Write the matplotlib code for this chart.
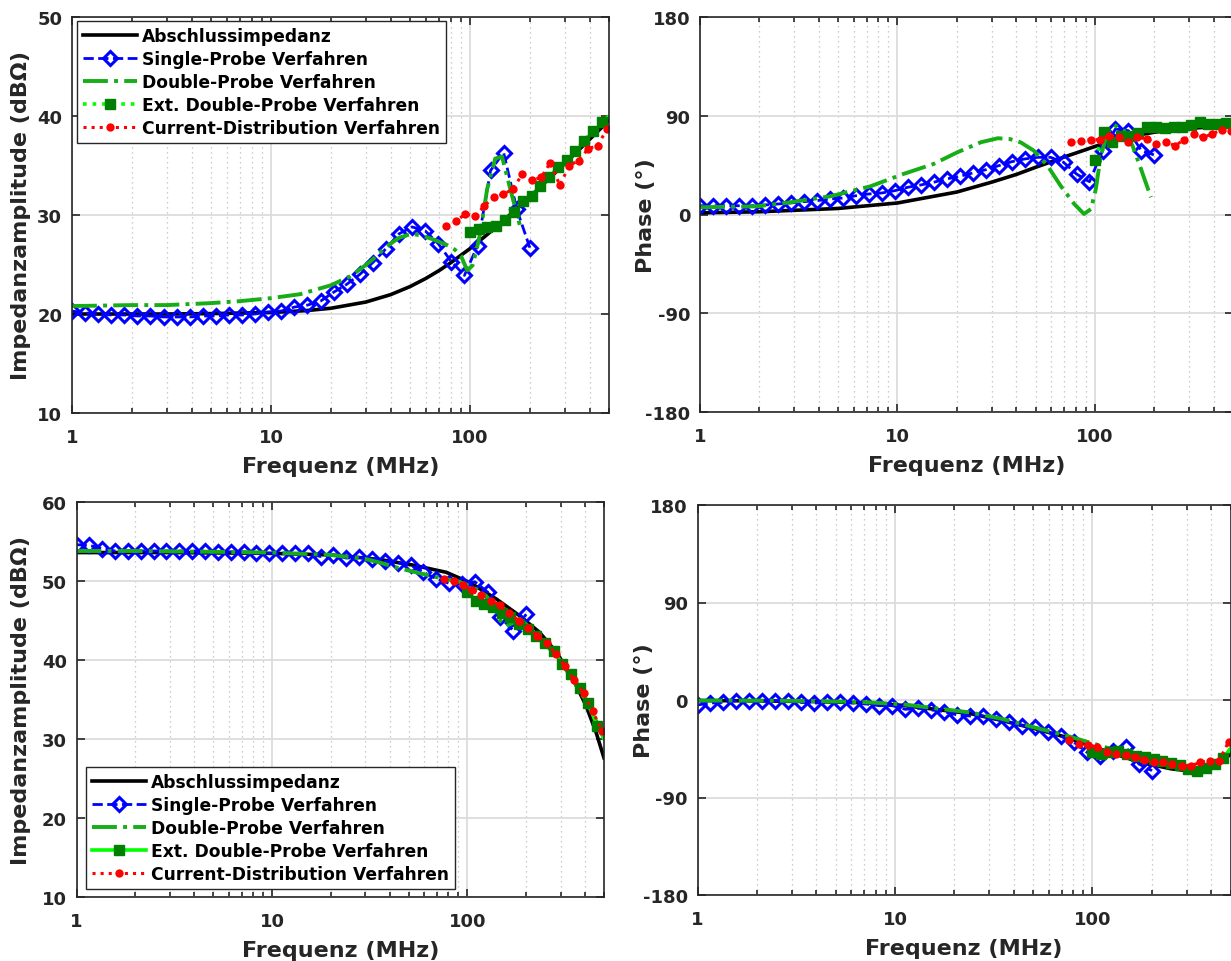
import matplotlib
matplotlib.use("Agg")
import matplotlib.pyplot as plt
from matplotlib.ticker import FixedLocator, FixedFormatter, NullFormatter, LogLocator

plt.rcParams['font.family'] = ['DejaVu Sans']
plt.rcParams['font.weight'] = 'bold'

# ---------------- data ----------------
# frequencies (MHz)
f_probe = [1.0, 1.163, 1.354, 1.575, 1.832, 2.132, 2.480, 2.885, 3.357, 3.906, 4.544, 5.287,
           6.151, 7.156, 8.325, 9.686, 11.27, 13.11, 15.26, 17.75, 20.65, 24.03, 27.95, 32.52,
           37.84, 44.02, 51.19, 59.58, 69.31, 80.64, 93.82, 109.2, 127.0, 147.7, 171.9, 200.0]
f_ext = [100, 111, 122, 135, 150, 166, 184, 204, 225, 250, 276, 306, 339, 375, 415, 460, 500]
f_cd = [76, 85, 95, 106, 118, 132, 147, 164, 183, 204, 228, 254, 283, 316, 352, 393, 438, 489]

# --- top left: impedance magnitude (dBOhm) ---
f_term_tl = [1, 3, 5, 10, 15, 20, 30, 40, 50, 60, 70, 80, 100, 120, 150, 200, 250, 300, 400, 500]
term_tl = [20.0, 20.0, 20.04, 20.15, 20.34, 20.58, 21.21, 21.96, 22.77, 23.59, 24.39, 25.17,
           26.6, 27.9, 29.56, 31.84, 33.68, 35.2, 37.65, 39.56]
single_tl = [20.3, 20.1, 20.0, 19.9, 19.9, 19.8, 19.8, 19.7, 19.7, 19.7, 19.8, 19.8, 19.9, 19.9,
             20.0, 20.2, 20.3, 20.7, 20.9, 21.3, 22.2, 23.0, 24.0, 25.2, 26.6, 28.1, 28.8, 28.4,
             27.1, 25.3, 23.9, 26.9, 34.5, 36.3, 30.6, 26.7]
f_double_tl = [1, 2, 3, 5, 7, 10, 14, 20, 25, 28, 32, 38, 44, 51, 58, 66, 76, 84, 90, 97, 103,
               108, 113, 122, 134, 145, 155, 168, 178]
double_tl = [20.8, 20.9, 20.9, 21.1, 21.3, 21.6, 22.0, 22.9, 23.8, 24.5, 25.4, 26.8, 27.7, 28.1,
             27.9, 27.5, 27.0, 26.5, 25.9, 24.4, 24.9, 26.5, 28.3, 32.6, 35.7, 35.9, 33.6, 30.9, 29.0]
ext_tl = [28.3, 28.6, 28.8, 28.9, 29.5, 30.3, 31.4, 31.9, 32.9, 33.8, 34.8, 35.6, 36.5, 37.5,
          38.5, 39.4, 40.0]
cd_tl = [28.9, 29.4, 30.1, 29.9, 30.9, 31.8, 32.1, 32.6, 34.1, 33.5, 33.8, 35.3, 33.0, 35.0,
         35.5, 36.7, 37.0, 38.7]

# --- top right: phase (deg) ---
f_term_tr = [1, 2, 5, 10, 20, 30, 40, 50, 60, 70, 80, 100, 120, 150, 200, 300, 400, 500]
term_tr = [1.5, 2.5, 5.5, 10.5, 20.5, 29.5, 36.5, 43, 48, 52.5, 56, 62, 66.5, 71, 75, 78.5, 80, 80.5]
single_tr = [8.0, 8.0, 8.0, 8.0, 8.0, 8.7, 9.6, 10.5, 11.7, 12.6, 14.1, 15.0, 17.1, 18.7, 19.6,
             21.7, 24.8, 26.9, 29.4, 32.4, 34.8, 37.8, 40.8, 44.5, 48.1, 50.6, 52.1, 52.1, 47.6,
             36.9, 29.9, 58.2, 77.9, 76.4, 58.2, 54.2]
f_double_tr = [1, 1.94, 2.86, 4.57, 7.3, 10.7, 15.2, 20.1, 26.4, 32.2, 37, 42, 49, 57.5, 67,
               78.5, 88, 95.5, 101, 107, 116, 125, 140, 155, 171, 192]
double_tr = [6.6, 7.4, 11.1, 16.6, 25.7, 36.9, 46, 56.7, 65.8, 69.5, 68.8, 65.8, 58.2, 44.5,
             26.2, 9.6, 0.5, 5, 23.2, 53.6, 74.9, 81.6, 76.4, 62.7, 41.5, 15.7]
ext_tr = [49.9, 74.9, 65.8, 71.8, 71.8, 74.3, 80.0, 80.0, 78.6, 80.0, 80.0, 81.6, 84.0, 82.5,
          82.5, 83.4, 84.0]
cd_tr = [66.4, 67.3, 68.2, 68.2, 71.8, 70.4, 65.8, 70.4, 68.8, 64.3, 66.4, 62.7, 68.2, 73.4,
         70.4, 73.4, 77.3, 76.4]

# --- bottom left: impedance magnitude (dBOhm) ---
f_term_bl = [1, 3, 10, 20, 30, 36, 53, 78, 103, 141, 185, 234, 285, 347, 405, 456, 500]
term_bl = [53.6, 53.6, 53.5, 53.3, 52.9, 52.7, 52.0, 51.1, 49.8, 47.7, 45.6, 43.5, 41.0, 37.6,
           34.2, 30.8, 27.6]
single_bl = [54.6, 54.5, 54.1, 53.8, 53.8, 53.8, 53.8, 53.8, 53.8, 53.8, 53.8, 53.7, 53.7, 53.7,
             53.5, 53.5, 53.5, 53.5, 53.5, 53.1, 53.3, 52.9, 53.0, 52.8, 52.5, 52.3, 52.0, 51.1,
             50.3, 49.7, 49.6, 49.9, 48.6, 45.4, 43.7, 45.8]
f_double_bl = [1, 2, 5, 10, 20, 30, 36, 45, 59, 75, 91, 107, 125, 138, 147, 158, 168, 185, 200,
               225, 250, 300, 350, 400, 450, 500]
double_bl = [53.8, 53.8, 53.7, 53.6, 53.3, 52.8, 52.3, 51.6, 50.9, 50.3, 49.9, 49.2, 48.1, 46.5,
             45.0, 44.3, 44.6, 45.2, 44.5, 43.0, 42.1, 39.8, 37.3, 35.0, 32.6, 30.0]
ext_bl = [48.6, 47.5, 47.1, 46.7, 46.0, 45.4, 44.6, 43.9, 43.1, 42.2, 41.2, 39.5, 38.2, 36.5,
          34.6, 31.7, 30.0]
cd_bl = [50.3, 50.0, 49.5, 48.8, 48.2, 47.5, 46.9, 45.9, 45.0, 44.0, 43.1, 42.1, 40.8, 39.2,
         37.5, 35.8, 33.5, 31.0]

# --- bottom right: phase (deg) ---
f_term_br = [1, 2, 4, 7, 11, 15, 24, 34, 50, 74, 109, 174, 250, 300, 350, 400, 450, 500]
term_br = [-0.5, -0.8, -1.5, -2.5, -5.0, -8.0, -12.5, -18.5, -26, -34.5, -45.2, -57.5, -63.5,
           -65.2, -65.5, -63, -57, -50]
single_br = [-4.6, -2.8, -2.2, -0.6, -0.6, -0.6, -0.6, -0.6, -2.2, -2.8, -2.2, -1.5, -2.8, -3.7,
             -5.2, -5.2, -8.6, -7.7, -9.2, -10.8, -13.8, -14.8, -14.8, -17.8, -20.5, -23.7, -25.2,
             -29.8, -33.5, -39.0, -48.3, -51.4, -46.8, -43.7, -59.1, -65.2]
f_double_br = [1, 2, 4, 7, 11, 15, 24, 34, 50, 74, 109, 150, 200, 250, 300, 350, 400, 450, 500]
double_br = [-0.5, -0.5, -1, -2, -4, -7, -11.5, -17, -25, -33, -42, -50, -56, -60, -63, -64,
             -62, -57, -45]
ext_br = [-48.3, -49.8, -48.0, -46.8, -49.8, -51.4, -52.9, -54.5, -56.5, -58.5, -60.3, -63.7,
          -65.2, -63.0, -59.5, -53.5, -45.0]
cd_br = [-36.6, -40.6, -41.5, -43.7, -48.3, -49.8, -50.8, -52.9, -55.1, -57.5, -57.5, -59.1,
         -60.6, -60.6, -57.5, -56.0, -56.0, -38.5]

labels = ['Abschlussimpedanz', 'Single-Probe Verfahren', 'Double-Probe Verfahren',
          'Ext. Double-Probe Verfahren', 'Current-Distribution Verfahren']
xticks = [1, 10, 100]
xticklabels = ['1', '10', '100']
yticks_mag_top = [10, 20, 30, 40, 50]
yticks_mag_bot = [10, 20, 30, 40, 50, 60]
yticks_phase = [-180, -90, 0, 90, 180]

# ---------------- styling ----------------
W, H = 1231, 962
fig = plt.figure(figsize=(W / 100, H / 100), dpi=100)
TXT = '#262626'
C_BLUE = '#0000FF'
C_GREEN = '#16AD16'
C_EXTLINE = '#00FF00'
C_EXTMARK = '#007F00'
C_RED = '#FF0000'


def make_ax(l, r, t, b):
    return fig.add_axes([l / W, (H - b) / H, (r - l) / W, (b - t) / H])


def style(ax, yticks, xlabel, ylabel, ylab_x):
    ax.set_xscale('log')
    ax.set_xlim(1, 500)
    ax.set_ylim(yticks[0], yticks[-1])
    ax.xaxis.set_major_locator(FixedLocator(xticks))
    ax.xaxis.set_major_formatter(FixedFormatter(xticklabels))
    ax.xaxis.set_minor_locator(LogLocator(base=10, subs=range(2, 10), numticks=20))
    ax.xaxis.set_minor_formatter(NullFormatter())
    ax.set_yticks(yticks)
    ax.set_yticklabels([str(v) for v in yticks])
    ax.grid(which='major', color='#DCDCDC', lw=1.3, ls='-')
    ax.grid(which='minor', axis='x', color='#BDBDBD', lw=0.9, ls=(0, (1, 3)))
    ax.set_axisbelow(True)
    ax.tick_params(which='both', direction='in', top=True, right=True, colors=TXT,
                   labelsize=13, width=1.2)
    ax.tick_params(which='major', length=6)
    ax.tick_params(axis='x', which='major', pad=11)
    ax.tick_params(axis='y', which='major', pad=7)
    ax.tick_params(which='minor', length=3.5)
    for lab in ax.get_xticklabels() + ax.get_yticklabels():
        lab.set_fontweight('bold')
    for s in ax.spines.values():
        s.set_color(TXT)
        s.set_linewidth(1.2)
    ax.set_xlabel(xlabel, fontsize=16, fontweight='bold', color=TXT, labelpad=7)
    ax.set_ylabel(ylabel, fontsize=16, fontweight='bold', color=TXT)
    ax.yaxis.set_label_coords(ylab_x, 0.5)


def draw(ax, ft, term, single, fd, double, ext, cd, ext_ls):
    h = []
    h += ax.plot(ft, term, color='black', lw=2.6, ls='-', label=labels[0])
    h += ax.plot(f_probe, single, color=C_BLUE, lw=2, ls='--', marker='D', ms=6.8,
                 mfc='none', mec=C_BLUE, mew=2.2, label=labels[1])
    h += ax.plot(fd, double, color=C_GREEN, lw=2.8, ls='-.', label=labels[2])
    h += ax.plot(f_ext, ext, color=C_EXTLINE, lw=2.6, ls=ext_ls, marker='s', ms=7,
                 mfc=C_EXTMARK, mec=C_EXTMARK, markevery=list(range(len(f_ext) - 1)),
                 label=labels[3])
    h += ax.plot(f_cd, cd, color=C_RED, lw=2.2, ls=':', marker='o', ms=6,
                 mfc=C_RED, mec=C_RED, mew=0, label=labels[4])
    return h


ax_tl = make_ax(72, 609, 18, 414)
ax_tr = make_ax(700, 1233, 18, 413)
ax_bl = make_ax(76.5, 604, 503, 898)
ax_br = make_ax(697.5, 1230.5, 506, 896)

h_tl = draw(ax_tl, f_term_tl, term_tl, single_tl, f_double_tl, double_tl, ext_tl, cd_tl, ':')
draw(ax_tr, f_term_tr, term_tr, single_tr, f_double_tr, double_tr, ext_tr, cd_tr, ':')
h_bl = draw(ax_bl, f_term_bl, term_bl, single_bl, f_double_bl, double_bl, ext_bl, cd_bl, '-')
draw(ax_br, f_term_br, term_br, single_br, f_double_br, double_br, ext_br, cd_br, '-')

style(ax_tl, yticks_mag_top, 'Frequenz (MHz)', 'Impedanzamplitude (dBΩ)', -0.077)
style(ax_tr, yticks_phase, 'Frequenz (MHz)', 'Phase (°)', -0.083)
style(ax_bl, yticks_mag_bot, 'Frequenz (MHz)', 'Impedanzamplitude (dBΩ)', -0.086)
style(ax_br, yticks_phase, 'Frequenz (MHz)', 'Phase (°)', -0.082)

leg_kw = dict(prop={'weight': 'bold', 'size': 12.3}, frameon=True, fancybox=False,
              edgecolor='#262626', framealpha=1, labelspacing=0.29, handlelength=3.15,
              handletextpad=0.3, borderpad=0.35, borderaxespad=0.0)
leg1 = ax_tl.legend(h_tl, labels, loc='upper left', bbox_to_anchor=(0.010, 0.989), **leg_kw)
leg1.get_frame().set_linewidth(1.0)
leg2 = ax_bl.legend(h_bl, labels, loc='lower left', bbox_to_anchor=(0.018, 0.020), **leg_kw)
leg2.get_frame().set_linewidth(1.0)

fig.savefig('out.png', dpi=100)
